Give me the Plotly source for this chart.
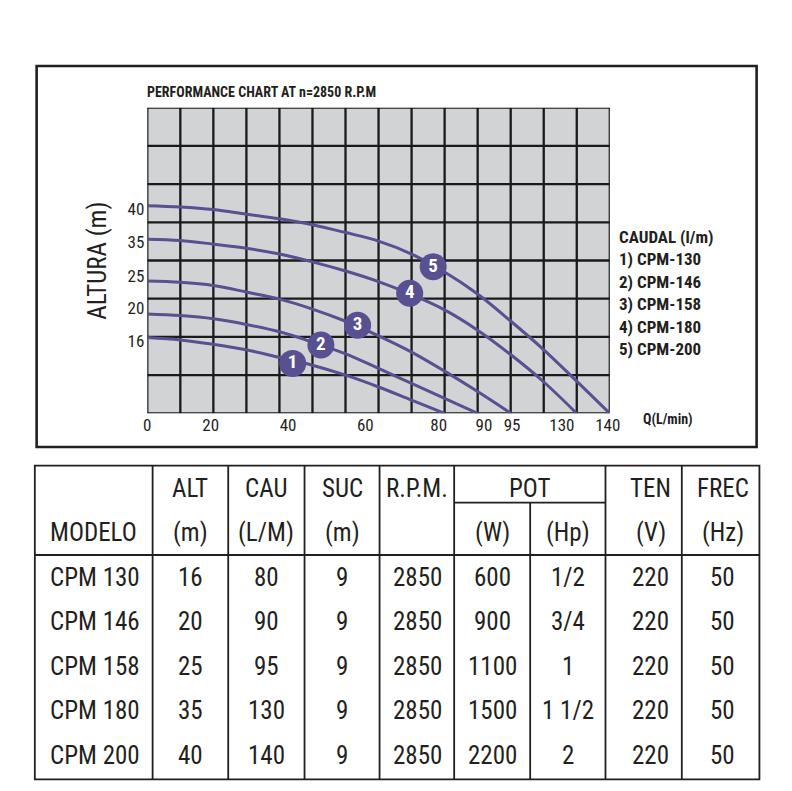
import numpy as np
import plotly.graph_objects as go

W, H = 792, 791

# curves: flow Q (L/min) vs head H (m), one per pump
Q_130 = [0, 10.4, 20.7, 29.2, 37.8, 46.3, 54.9, 63.6, 72.6, 81.3]
H_130 = [16.4, 16.1, 15.2, 14.0, 12.3, 10.6, 8.4, 5.8, 2.9, 0]
Q_146 = [0, 10.4, 20.7, 29.2, 37.8, 46.3, 54.9, 63.6, 72.6, 81.3, 88.6]
H_146 = [19.3, 19.1, 18.7, 18.0, 17.1, 15.7, 13.1, 9.9, 6.6, 3.3, 0]
Q_158 = [0, 10.4, 20.7, 29.2, 37.8, 46.3, 54.9, 63.6, 72.6, 81.3, 88.6, 94.8]
H_158 = [24.2, 24.0, 23.5, 22.5, 21.4, 19.9, 18.4, 16.6, 13.5, 9.3, 4.8, 0]
Q_180 = [0, 10.4, 20.7, 29.2, 37.8, 46.3, 54.9, 63.6, 72.6, 81.3, 88.6, 94.8, 117.3, 133.2]
H_180 = [35.4, 35.2, 34.3, 33.1, 31.4, 29.1, 26.4, 24.1, 22.1, 19.8, 17.3, 12.9, 6.9, 0]
Q_200 = [0, 10.4, 20.7, 29.2, 37.8, 46.3, 54.9, 63.6, 72.6, 81.3, 88.6, 94.8, 117.3, 133.2, 140.4]
H_200 = [40.5, 40.3, 39.9, 39.2, 38.5, 37.6, 36.4, 35.1, 31.4, 26.1, 22.2, 18.4, 14.0, 7.1, 0]

# numbered badges on the curves
BADGE_TXT = ["1", "2", "3", "4", "5"]
BADGE_Q = [41.2, 48.5, 58.0, 72.1, 78.5]
BADGE_H = [11.0, 15.05, 17.9, 22.3, 27.65]

# axis tick labels (the chart's scale is not linear)
X_TICKS = [0, 20, 40, 60, 80, 90, 95, 130, 140]
Y_TICKS = [16, 20, 25, 35, 40]

LEGEND_LINES = ["CAUDAL (l/m)", "1) CPM-130", "2) CPM-146", "3) CPM-158", "4) CPM-180", "5) CPM-200"]

# table
MODELO = ["CPM 130", "CPM 146", "CPM 158", "CPM 180", "CPM 200"]
ALT = [16, 20, 25, 35, 40]
CAU = [80, 90, 95, 130, 140]
SUC = [9, 9, 9, 9, 9]
RPM = [2850, 2850, 2850, 2850, 2850]
POT_W = [600, 900, 1100, 1500, 2200]
POT_HP = ["1/2", "3/4", "1", "1 1/2", "2"]
TEN = [220, 220, 220, 220, 220]
FREC = [50, 50, 50, 50, 50]

# ---- layout stuff ----
# where each tick label sits, in grid cells (14 columns x 8 rows)
X_TICK_POS = [0, 1.92, 4.26, 6.60, 8.82, 10.19, 11.04, 12.55, 13.94]
Y_TICK_POS = [1.90, 2.75, 3.60, 4.49, 5.35]

INK = "#231f20"
CURVE = "#575091"
GRAYBG = "#d1d3d4"
FONT = "Liberation Sans Narrow, Arial Narrow, Roboto Condensed, DejaVu Sans Condensed, sans-serif"

# the photographed page comes out a little squeezed sideways
# (measured with test marks: shown_x ~ 6 + 0.977 * x), so undo that here
SQUEEZE, SHIFT = 0.977, 6.0


def to_axis(v, vals, pos):
    v = np.asarray(v, dtype=float)
    out = np.interp(v, vals, pos)
    slope = (pos[-1] - pos[-2]) / (vals[-1] - vals[-2])
    return np.where(v > vals[-1], pos[-1] + (v - vals[-1]) * slope, out)


def qx(q):
    return to_axis(q, X_TICKS, X_TICK_POS)


def hy(h):
    return to_axis(h, [0] + Y_TICKS, [0] + Y_TICK_POS)


def px(x):
    return (x - SHIFT) / SQUEEZE / W


def py(y):
    return 1 - y / H


fig = go.Figure()

for q, h in [(Q_130, H_130), (Q_146, H_146), (Q_158, H_158), (Q_180, H_180), (Q_200, H_200)]:
    fig.add_trace(go.Scatter(
        x=qx(q), y=hy(h), mode="lines",
        line=dict(color=CURVE, width=3, shape="spline", smoothing=1.0),
        hoverinfo="skip", showlegend=False,
    ))

fig.add_trace(go.Scatter(
    x=qx(BADGE_Q), y=hy(BADGE_H), mode="markers+text",
    text=["<b>%s</b>" % t for t in BADGE_TXT], textposition="middle center",
    textfont=dict(color="white", size=19, family=FONT),
    marker=dict(size=27, color=CURVE),
    cliponaxis=False, hoverinfo="skip", showlegend=False,
))

shapes = []
# grid
for i in range(15):
    shapes.append(dict(type="line", xref="x", yref="y", x0=i, x1=i, y0=0, y1=8,
                       line=dict(color="#1a1a1a", width=2.3), layer="below"))
for j in range(9):
    shapes.append(dict(type="line", xref="x", yref="y", x0=0, x1=14, y0=j, y1=j,
                       line=dict(color="#1a1a1a", width=2.3), layer="below"))

# frame around the chart
shapes.append(dict(type="rect", xref="paper", yref="paper",
                   x0=px(38.5), x1=px(755.5), y0=py(447), y1=py(66),
                   line=dict(color=INK, width=2.6)))

# table frame / rules
T_L, T_R, T_T, T_B = 36.7, 758.3, 465.7, 779.3
T_HEAD = 555
T_POT = 502.7
T_VLINES = [154, 229.3, 305.3, 380, 454.3, 605, 681]
T_POT_MID = 530


def tline(x0, y0, x1, y1):
    shapes.append(dict(type="line", xref="paper", yref="paper",
                       x0=px(x0), x1=px(x1), y0=py(y0), y1=py(y1),
                       line=dict(color=INK, width=1.8)))


shapes.append(dict(type="rect", xref="paper", yref="paper",
                   x0=px(T_L), x1=px(T_R), y0=py(T_B), y1=py(T_T),
                   line=dict(color=INK, width=1.8)))
tline(T_L, T_HEAD, T_R, T_HEAD)
for xv in T_VLINES:
    tline(xv, T_T, xv, T_B)
tline(T_POT_MID, T_POT, T_POT_MID, T_B)
tline(454.3, T_POT, 605, T_POT)

ann = []


def text(x, y, s, size, bold=False, xanchor="center", angle=0):
    ann.append(dict(x=px(x), y=py(y), xref="paper", yref="paper",
                    text=("<b>%s</b>" % s) if bold else s, showarrow=False,
                    xanchor=xanchor, yanchor="middle", textangle=angle,
                    font=dict(family=FONT, size=size, color=INK)))


text(146, 92, "PERFORMANCE CHART AT n=2850 R.P.M", 14, bold=True, xanchor="left")
text(98.8, 260.5, "ALTURA (m)", 25, angle=-90)
text(640, 419.3, "Q(L/min)", 14, bold=True, xanchor="left")
for k, s in enumerate(LEGEND_LINES):
    text(616.5, 236.8 + k * 22.45, s, 17, bold=True, xanchor="left")

# table text
COL_X = [191.7, 267.3, 342.7, 417.5, 492.5, 568, 650, 721.7]
ROW_Y = [577, 621.5, 666, 710.5, 755]
HEAD1_Y, HEAD2_Y = 488.3, 532.3
TS = 25

for cx, s in zip([191.7, 267.3, 342.7, 417.5, 529.7, 650, 721.7],
                 ["ALT", "CAU", "SUC", "R.P.M.", "POT", "TEN", "FREC"]):
    text(cx, HEAD1_Y, s, TS)
text(49.5, HEAD2_Y, "MODELO", TS, xanchor="left")
for cx, s in zip([191.7, 267.3, 342.7, 492.5, 568, 650, 721.7],
                 ["(m)", "(L/M)", "(m)", "(W)", "(Hp)", "(V)", "(Hz)"]):
    text(cx, HEAD2_Y, s, TS)

for r, yv in enumerate(ROW_Y):
    text(49.5, yv, MODELO[r], TS, xanchor="left")
    vals = [ALT[r], CAU[r], SUC[r], RPM[r], POT_W[r], POT_HP[r], TEN[r], FREC[r]]
    for cx, v in zip(COL_X, vals):
        text(cx, yv, str(v), TS)

fig.update_layout(
    width=W, height=H, autosize=False,
    margin=dict(l=0, r=0, t=0, b=0),
    paper_bgcolor="white", plot_bgcolor=GRAYBG,
    shapes=shapes, annotations=ann,
    xaxis=dict(domain=[px(148.7), px(609.3)], range=[0, 14],
               tickvals=qx(X_TICKS), ticktext=[str(t) for t in X_TICKS],
               showgrid=False, zeroline=False, showline=False, ticks="",
               tickfont=dict(family=FONT, size=17, color=INK), fixedrange=True),
    yaxis=dict(domain=[py(413.3), py(107.7)], range=[0, 8],
               tickvals=hy(Y_TICKS), ticktext=[str(t) for t in Y_TICKS],
               showgrid=False, zeroline=False, showline=False, ticks="",
               ticklabelstandoff=2,
               tickfont=dict(family=FONT, size=17, color=INK), fixedrange=True),
)

# no body margin / scrollbars, so the figure sits at the top-left of the window
PAGE_FIX = """
document.documentElement.style.margin='0';
document.documentElement.style.overflow='hidden';
document.body.style.margin='0';
document.body.style.overflow='hidden';
"""

fig.write_html(
    "out.html",
    config={"displayModeBar": False, "responsive": False},
    post_script=PAGE_FIX,
)
